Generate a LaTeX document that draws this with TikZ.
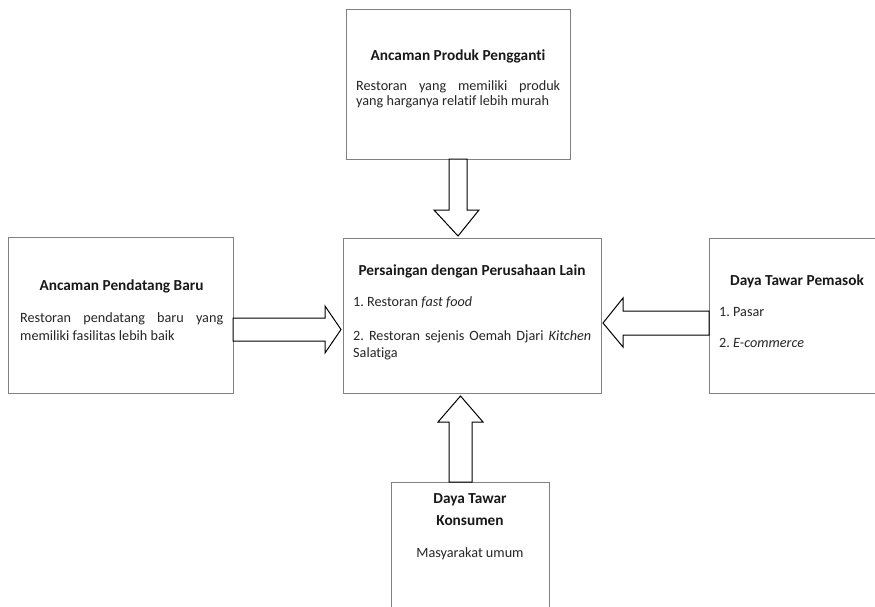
\documentclass[tikz,border=0pt]{standalone}
\usepackage{fontspec}
\setmainfont[Ligatures=NoCommon]{Carlito}
\frenchspacing
\begin{document}
\begin{tikzpicture}[x=1pt,y=-1pt,
  box/.style={draw=black!50, line width=1.3pt, fill=white, inner sep=0pt, anchor=north west},
  blockarrow/.style={draw=black, line width=1pt, fill=white, line join=miter},
  title/.style={font=\fontsize{15.3}{18}\selectfont\bfseries, text=black!90, inner sep=0pt, anchor=base},
  body/.style={font=\fontsize{14.2}{17}\selectfont, text=black!85, inner sep=0pt, anchor=base west}]
\useasboundingbox (0,0) rectangle (875,606);
\clip (0,0) rectangle (875,606);
% boxes
\node[box, minimum width=224pt, minimum height=150pt] (top) at (346,9) {};
\node[box, minimum width=258pt, minimum height=155pt] (mid) at (343,238) {};
\node[box, minimum width=225pt, minimum height=156pt] (left) at (8,237) {};
\node[box, minimum width=180pt, minimum height=155pt] (right) at (709,238) {};
\node[box, minimum width=158pt, minimum height=140pt] (bot) at (391,482) {};
% block arrows
\draw[blockarrow] (449,159) -- (467,159) -- (467,210) -- (479,210) -- (458,236) -- (434,210) -- (449,210) -- cycle;
\draw[blockarrow] (233,318) -- (325,318) -- (325,306) -- (341,329.5) -- (325,353) -- (325,341) -- (233,341) -- cycle;
\draw[blockarrow] (709,311) -- (623,311) -- (623,298) -- (603,323) -- (623,347) -- (623,335) -- (709,335) -- cycle;
\draw[blockarrow] (449,482) -- (449,422) -- (438,422) -- (460.5,396) -- (483,422) -- (472,422) -- (472,482) -- cycle;
% top text
\node[title] (toptitle) at (458,60.7) {Ancaman Produk Pengganti};
\node[body] (topbody1) at (356,90) {\makebox[204pt][s]{Restoran yang memiliki produk}};
\node[body] (topbody2) at (356,105.5) {yang harganya relatif lebih murah};
% left text
\node[title] (lefttitle) at (121.5,290) {Ancaman Pendatang Baru};
\node[body] (leftbody1) at (20,322.7) {\makebox[203pt][s]{Restoran pendatang baru yang}};
\node[body] (leftbody2) at (20,340.7) {memiliki fasilitas lebih baik};
% center text
\node[title] (midtitle) at (472,275) {Persaingan dengan Perusahaan Lain};
\node[body] (mid1) at (353,306.7) {1. Restoran \textit{fast food}};
\node[body] (mid2) at (353,340) {\makebox[238pt][s]{2. Restoran sejenis Oemah Djari \textit{Kitchen}}};
\node[body] (mid3) at (353,357.7) {Salatiga};
% right text
\node[title] (righttitle) at (797,285) {Daya Tawar Pemasok};
\node[body] (right1) at (719,316.7) {1. Pasar};
\node[body] (right2) at (719,347.3) {2. \textit{E-commerce}};
% bottom text
\node[title] (bottitle1) at (470,503.3) {Daya Tawar};
\node[title] (bottitle2) at (470,525.7) {Konsumen};
\node[body, anchor=base] (botbody) at (470,557.3) {Masyarakat umum};
\end{tikzpicture}
\end{document}
